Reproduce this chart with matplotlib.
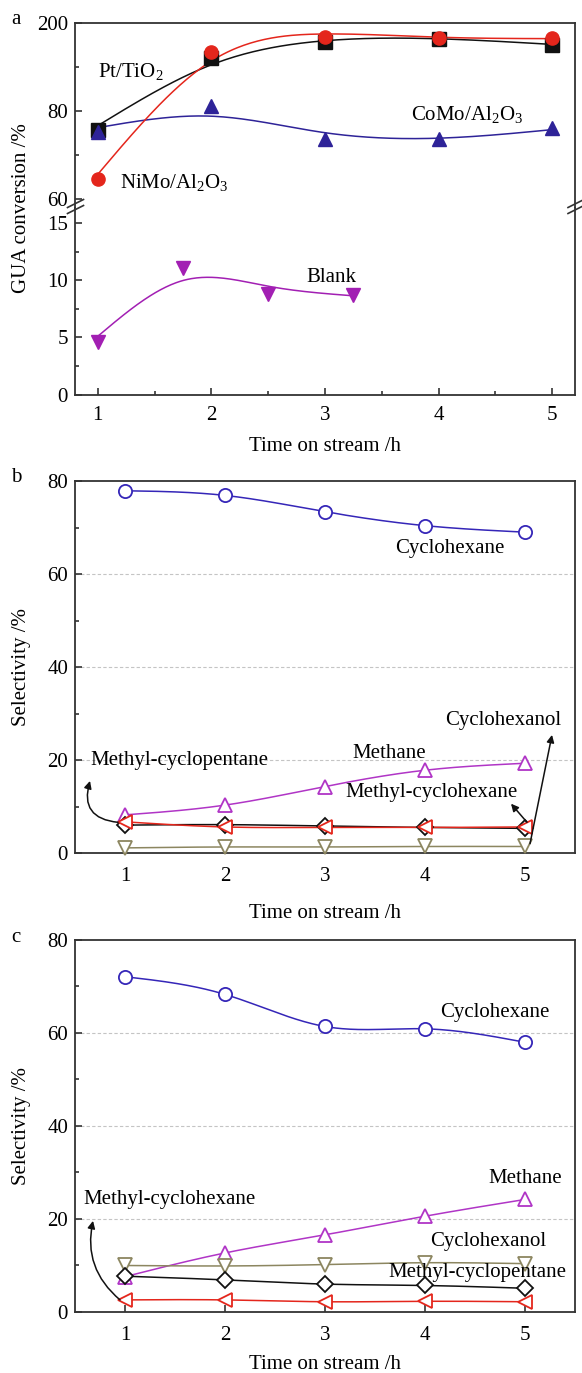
import numpy as np
import matplotlib.pyplot as plt
from matplotlib.lines import Line2D
from matplotlib.ticker import MultipleLocator, FixedLocator

plt.rcParams['font.family'] = ['Liberation Serif', 'DejaVu Serif']
plt.rcParams['mathtext.fontset'] = 'custom'
plt.rcParams['mathtext.rm'] = 'Liberation Serif'
plt.rcParams['font.size'] = 15

# conversion of guaiacol (a)
hours = [1, 2, 3, 4, 5]
pt_tio2 = [75.7, 92.0, 95.6, 96.3, 95.0]
nimo = [64.4, 93.5, 96.7, 96.5, 96.5]
como = [75.3, 81.0, 73.5, 73.7, 76.0]
blank_hours = [1, 1.75, 2.5, 3.25]
blank = [4.6, 11.1, 8.8, 8.75]

# product selectivity (b)
b_cyclohexane = [77.9, 76.9, 73.4, 70.4, 69.0]
b_methane = [8.2, 10.3, 14.3, 17.8, 19.3]
b_mcpentane = [6.0, 6.1, 5.8, 5.5, 5.3]
b_mchexane = [6.7, 5.6, 5.5, 5.5, 5.6]
b_cyclohexanol = [1.1, 1.3, 1.3, 1.4, 1.4]

# product selectivity (c)
c_cyclohexane = [72.1, 68.3, 61.4, 60.9, 58.0]
c_methane = [7.6, 12.7, 16.6, 20.6, 24.2]
c_cyclohexanol = [10.0, 9.9, 10.2, 10.6, 10.4]
c_mcpentane = [7.7, 6.9, 6.0, 5.7, 5.1]
c_mchexane = [2.6, 2.6, 2.2, 2.3, 2.2]

BLACK = '#111111'
RED = '#e4261c'
NAVY = '#2e2398'
BLUE = '#3526b8'
MAGENTA = '#a21fb3'
VIOLET = '#b035c6'
OLIVE = '#8c8660'
SPINE = '#333333'


def spline(x, y, n=200):
    # natural cubic spline through the points
    x = np.asarray(x, float)
    y = np.asarray(y, float)
    m = len(x)
    h = np.diff(x)
    A = np.zeros((m, m))
    r = np.zeros(m)
    A[0, 0] = A[-1, -1] = 1
    for i in range(1, m - 1):
        A[i, i - 1] = h[i - 1]
        A[i, i] = 2 * (h[i - 1] + h[i])
        A[i, i + 1] = h[i]
        r[i] = 6 * ((y[i + 1] - y[i]) / h[i] - (y[i] - y[i - 1]) / h[i - 1])
    M = np.linalg.solve(A, r)
    xs = np.linspace(x[0], x[-1], n)
    k = np.clip(np.searchsorted(x, xs) - 1, 0, m - 2)
    t0 = x[k + 1] - xs
    t1 = xs - x[k]
    hk = h[k]
    ys = (M[k] * t0**3 + M[k + 1] * t1**3) / (6 * hk) \
        + (y[k] / hk - M[k] * hk / 6) * t0 + (y[k + 1] / hk - M[k + 1] * hk / 6) * t1
    return xs, ys


def smooth(x, y, lam, n=200):
    # cubic smoothing spline (Reinsch form)
    x = np.asarray(x, float)
    y = np.asarray(y, float)
    m = len(x)
    h = np.diff(x)
    Q = np.zeros((m, m - 2))
    R = np.zeros((m - 2, m - 2))
    for j in range(1, m - 1):
        Q[j - 1, j - 1] = 1 / h[j - 1]
        Q[j, j - 1] = -1 / h[j - 1] - 1 / h[j]
        Q[j + 1, j - 1] = 1 / h[j]
        R[j - 1, j - 1] = (h[j - 1] + h[j]) / 3
        if j < m - 2:
            R[j - 1, j] = R[j, j - 1] = h[j] / 6
    K = Q @ np.linalg.solve(R, Q.T)
    g = np.linalg.solve(np.eye(m) + lam * K, y)
    return spline(x, g, n)


def style(ax, pad=5):
    for s in ax.spines.values():
        s.set_linewidth(1.3)
        s.set_color(SPINE)
    ax.tick_params(which='both', direction='in', color=SPINE, width=1.2,
                   labelsize=15, pad=5)
    ax.tick_params(axis='x', which='both', pad=pad)
    ax.tick_params(which='major', length=5)
    ax.tick_params(which='minor', length=3)


fig = plt.figure(figsize=(5.82, 13.73), dpi=100)
L, W = 0.1289, 0.8591

# ---- a ----
ax_top = fig.add_axes([L, 0.84887, W, 0.13438])
ax_bot = fig.add_axes([L, 0.71267, W, 0.13620])
for ax in (ax_top, ax_bot):
    style(ax, pad=8)
    ax.set_xlim(0.8, 5.2)
    ax.xaxis.set_major_locator(MultipleLocator(1))
    ax.xaxis.set_minor_locator(MultipleLocator(0.5))

ax_top.set_ylim(58, 100)
ax_top.yaxis.set_major_locator(FixedLocator([60, 80, 100]))
ax_top.set_yticklabels(['60', '80', '200'])
ax_top.yaxis.set_minor_locator(FixedLocator([70, 90]))
ax_top.spines['bottom'].set_visible(False)
ax_top.tick_params(which='both', bottom=False, labelbottom=False)

ax_bot.set_ylim(0, 16.4)
ax_bot.yaxis.set_major_locator(FixedLocator([0, 5, 10, 15]))
ax_bot.yaxis.set_minor_locator(FixedLocator([2.5, 7.5, 12.5]))
ax_bot.spines['top'].set_visible(False)
ax_bot.set_xlabel('Time on stream /h', labelpad=9)

for y, c, mk, lam in ((pt_tio2, BLACK, 's', 0.08), (como, NAVY, '^', 0.08),
                      (nimo, RED, 'o', 0.04)):
    xs, ys = smooth(hours, y, lam)
    ax_top.plot(xs, ys, color=c, lw=1.1, zorder=2)
    ax_top.plot(hours, y, mk, color=c, ms=9.5, zorder=3, clip_on=False)

xs, ys = smooth(blank_hours, blank, 0.025)
ax_bot.plot(xs, ys, color=MAGENTA, lw=1.1)
ax_bot.plot(blank_hours, blank, 'v', color=MAGENTA, ms=9.5, clip_on=False)

ax_top.text(1.0, 88.9, r'Pt/TiO$_2$', ha='left', va='center')
ax_top.text(1.2, 63.6, r'NiMo/Al$_2$O$_3$', ha='left', va='center')
ax_top.text(3.76, 79.1, r'CoMo/Al$_2$O$_3$', ha='left', va='center')
ax_bot.text(2.84, 10.3, 'Blank', ha='left', va='center')

# axis break marks
H = 1373.0
for xp in (75.5, 576):
    for yp in (203.5, 209.5):
        fig.add_artist(Line2D([(xp - 8) / 582, (xp + 8) / 582],
                              [1 - (yp + 4) / H, 1 - (yp - 4) / H],
                              color=SPINE, lw=1.2))

fig.text(22 / 582, 1 - 208 / H, 'GUA conversion /%', rotation=90,
         ha='center', va='center', fontsize=15)
fig.text(16 / 582, 1 - 20 / H, 'a', ha='center', va='center', fontsize=15)


# ---- b, c ----
def selectivity(ax, series, labelpad):
    style(ax, pad=10)
    ax.set_xlim(0.5, 5.5)
    ax.set_ylim(0, 80)
    ax.xaxis.set_major_locator(MultipleLocator(1))
    ax.yaxis.set_major_locator(MultipleLocator(20))
    ax.yaxis.set_minor_locator(MultipleLocator(10))
    for v in (20, 40, 60):
        ax.axhline(v, color='#c4c4c4', lw=0.8, ls=(0, (3, 2)), zorder=0)
    for y, c, mk in series:
        xs, ys = spline(hours, y)
        ax.plot(xs, ys, color=c, lw=1.1, zorder=2)
        ms = 8 if mk == 'D' else 9.5
        ax.plot(hours, y, mk, color=c, mfc='white', mec=c, mew=1.3, ms=ms,
                zorder=3, clip_on=False)
    ax.set_xlabel('Time on stream /h', labelpad=labelpad)


ax_b = fig.add_axes([L, 0.37873, W, 0.27094])
selectivity(ax_b, [(b_cyclohexane, BLUE, 'o'), (b_methane, VIOLET, '^'),
                   (b_cyclohexanol, OLIVE, 'v'), (b_mcpentane, BLACK, 'D'),
                   (b_mchexane, RED, '<')], labelpad=13)
ax_b.text(3.7, 65.4, 'Cyclohexane', ha='left', va='center')
ax_b.text(3.27, 21.5, 'Methane', ha='left', va='center')
ax_b.text(3.2, 13.0, 'Methyl-cyclohexane', ha='left', va='center')
ax_b.text(0.65, 20.0, 'Methyl-cyclopentane', ha='left', va='center')
ax_b.text(4.2, 28.6, 'Cyclohexanol', ha='left', va='center')
arrow = dict(arrowstyle='-|>', color=BLACK, lw=1.1, mutation_scale=11,
             shrinkA=0, shrinkB=0)
ax_b.annotate('', xy=(0.65, 15.5), xytext=(0.93, 6.6),
              arrowprops=dict(arrow, connectionstyle='arc3,rad=-0.6'))
ax_b.annotate('', xy=(4.86, 10.6), xytext=(5.02, 6.6), arrowprops=arrow)
ax_b.annotate('', xy=(5.27, 25.4), xytext=(5.05, 2.0), arrowprops=arrow)
fig.text(22 / 582, 1 - 667 / H, 'Selectivity /%', rotation=90,
         ha='center', va='center', fontsize=15)
fig.text(16 / 582, 1 - 478 / H, 'b', ha='center', va='center', fontsize=15)

ax_c = fig.add_axes([L, 0.04443, W, 0.27094])
selectivity(ax_c, [(c_cyclohexane, BLUE, 'o'), (c_methane, VIOLET, '^'),
                   (c_cyclohexanol, OLIVE, 'v'), (c_mcpentane, BLACK, 'D'),
                   (c_mchexane, RED, '<')], labelpad=7)
ax_c.text(4.15, 64.4, 'Cyclohexane', ha='left', va='center')
ax_c.text(4.63, 28.8, 'Methane', ha='left', va='center')
ax_c.text(0.58, 24.3, 'Methyl-cyclohexane', ha='left', va='center')
ax_c.text(4.05, 15.1, 'Cyclohexanol', ha='left', va='center')
ax_c.text(3.63, 8.4, 'Methyl-cyclopentane', ha='left', va='center')
ax_c.annotate('', xy=(0.68, 19.6), xytext=(0.95, 2.6),
              arrowprops=dict(arrow, connectionstyle='arc3,rad=-0.3'))
fig.text(22 / 582, 1 - 1126 / H, 'Selectivity /%', rotation=90,
         ha='center', va='center', fontsize=15)
fig.text(16 / 582, 1 - 938 / H, 'c', ha='center', va='center', fontsize=15)

fig.savefig('out.png', dpi=100)
